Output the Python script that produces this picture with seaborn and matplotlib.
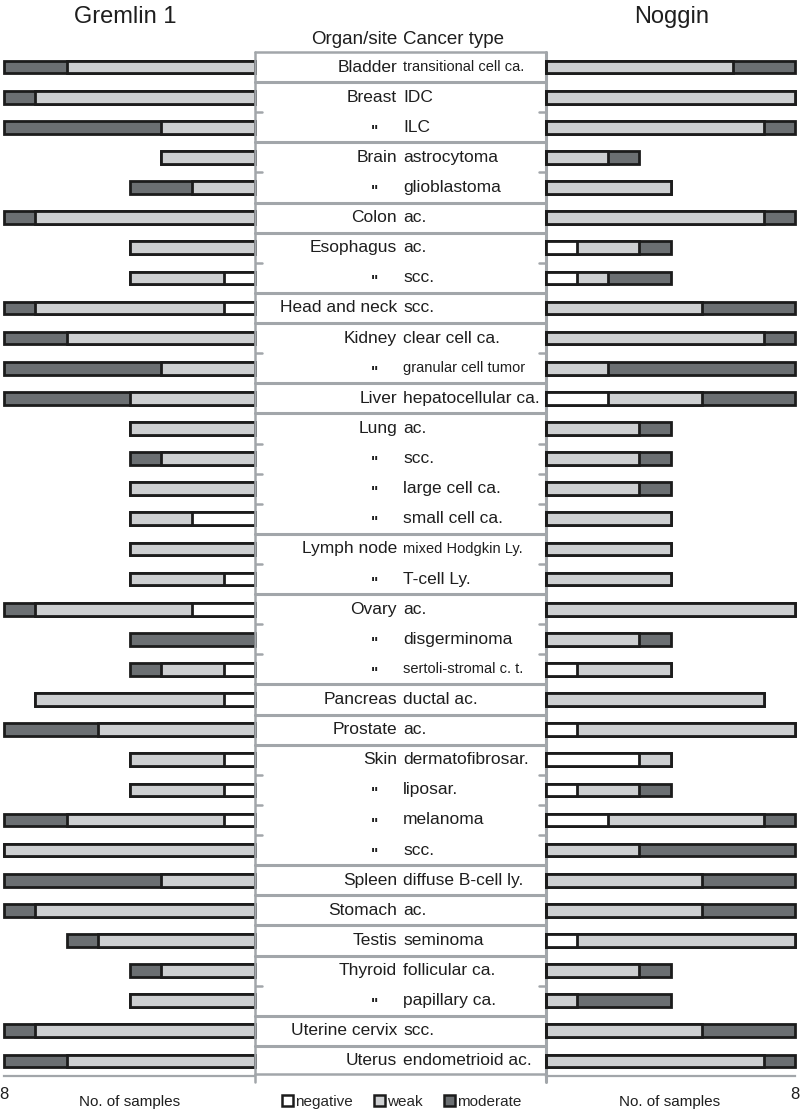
import matplotlib
matplotlib.use("Agg")
import matplotlib.pyplot as plt
from matplotlib.patches import Patch
import seaborn as sns
import pandas as pd

sns.set_style("white")
plt.rcParams['font.family'] = ['Liberation Sans', 'DejaVu Sans']

DITTO = '"'

organs = ["Bladder", "Breast", DITTO, "Brain", DITTO, "Colon", "Esophagus", DITTO,
          "Head and neck", "Kidney", DITTO, "Liver", "Lung", DITTO, DITTO, DITTO,
          "Lymph node", DITTO, "Ovary", DITTO, DITTO, "Pancreas", "Prostate",
          "Skin", DITTO, DITTO, DITTO, "Spleen", "Stomach", "Testis", "Thyroid",
          DITTO, "Uterine cervix", "Uterus"]
cancer_types = ["transitional cell ca.", "IDC", "ILC", "astrocytoma", "glioblastoma",
                "ac.", "ac.", "scc.", "scc.", "clear cell ca.", "granular cell tumor",
                "hepatocellular ca.", "ac.", "scc.", "large cell ca.", "small cell ca.",
                "mixed Hodgkin Ly.", "T-cell Ly.", "ac.", "disgerminoma",
                "sertoli-stromal c. t.", "ductal ac.", "ac.", "dermatofibrosar.",
                "liposar.", "melanoma", "scc.", "diffuse B-cell ly.", "ac.", "seminoma",
                "follicular ca.", "papillary ca.", "scc.", "endometrioid ac."]

# Gremlin 1 counts
grem_neg = [0, 0, 0, 0, 0, 0, 0, 1, 1, 0, 0, 0, 0, 0, 0, 2, 0, 1, 2, 0, 1, 1, 0,
            1, 1, 1, 0, 0, 0, 0, 0, 0, 0, 0]
grem_weak = [6, 7, 3, 3, 2, 7, 4, 3, 6, 6, 3, 4, 4, 3, 4, 2, 4, 3, 5, 0, 2, 6, 5,
             3, 3, 5, 8, 3, 7, 5, 3, 4, 7, 6]
grem_mod = [2, 1, 5, 0, 2, 1, 0, 0, 1, 2, 5, 4, 0, 1, 0, 0, 0, 0, 1, 4, 1, 0, 3,
            0, 0, 2, 0, 5, 1, 1, 1, 0, 1, 2]

# Noggin counts
nog_neg = [0, 0, 0, 0, 0, 0, 1, 1, 0, 0, 0, 2, 0, 0, 0, 0, 0, 0, 0, 0, 1, 0, 1,
           3, 1, 2, 0, 0, 0, 1, 0, 0, 0, 0]
nog_weak = [6, 8, 7, 2, 4, 7, 2, 1, 5, 7, 2, 3, 3, 3, 3, 4, 4, 4, 8, 3, 3, 7, 7,
            1, 2, 5, 3, 5, 5, 7, 3, 1, 5, 7]
nog_mod = [2, 0, 1, 1, 0, 1, 1, 2, 3, 1, 6, 3, 1, 1, 1, 0, 0, 0, 0, 1, 0, 0, 0,
           0, 1, 1, 5, 3, 3, 0, 1, 3, 3, 1]

x_ticks = [0, 2, 4, 6, 8]
x_tick_labels = ["", "", "", "", "8"]
levels = ["negative", "weak", "moderate"]

COLORS = {"negative": "#ffffff", "weak": "#cdcfd1", "moderate": "#6b6f72"}
EDGE = "#1c1c1c"
GRID = "#a2a6aa"
TEXT = "#1e1e1e"
SMALL_TYPES = {"transitional cell ca.", "granular cell tumor", "mixed Hodgkin Ly.",
               "sertoli-stromal c. t."}

W, H = 800, 1114
n = len(organs)
Y_TOP, Y_BOT = 52, 1076


def fx(px):
    return px / W


def fy(py):
    return 1 - py / H


def plot_panel(ax, neg, weak, mod, mirrored):
    df = pd.DataFrame({"row": list(range(n)), "neg": neg, "weak": weak, "mod": mod})
    df["c_weak"] = df["neg"] + df["weak"]
    df["c_mod"] = df["c_weak"] + df["mod"]
    # draw cumulative totals from longest to shortest so each segment shows
    for col, lvl in [("c_mod", "moderate"), ("c_weak", "weak"), ("neg", "negative")]:
        sns.barplot(data=df, x=col, y="row", orient="h", ax=ax, color=COLORS[lvl],
                    edgecolor=EDGE, linewidth=2.0, width=0.42, errorbar=None,
                    saturation=1)
    for p in ax.patches:
        p.set_clip_on(False)
    ax.set_ylim(n - 0.5, -0.5)
    if mirrored:
        ax.set_xlim(8, 0)
    else:
        ax.set_xlim(0, 8)
    ax.set_yticks([])
    ax.set_ylabel("")
    ax.set_xticks(x_ticks)
    ax.set_xticklabels(x_tick_labels, fontsize=12, color=TEXT)
    ax.set_xlabel("")
    for s in ["top", "left", "right"]:
        ax.spines[s].set_visible(False)
    ax.spines["bottom"].set_color(GRID)
    ax.spines["bottom"].set_linewidth(1.6)
    ax.tick_params(axis="x", direction="out", length=6, width=1.4, color=GRID, pad=2)
    ax.set_facecolor("none")


def plot_table(ax):
    ax.set_xlim(0, 1)
    ax.set_ylim(n - 0.5, -0.5)
    ax.axis("off")
    lw = 1.8
    ax.plot([0, 0], [-0.5, n - 0.3], color=GRID, lw=lw, clip_on=False, zorder=5)
    ax.plot([1, 1], [-0.5, n - 0.3], color=GRID, lw=2.2, clip_on=False, zorder=5)
    ax.plot([0, 1], [-0.5, -0.5], color=GRID, lw=lw, clip_on=False)
    ax.plot([0, 1], [n - 0.55, n - 0.55], color=GRID, lw=lw, clip_on=False)
    for i in range(1, n):
        yb = i - 0.5
        if organs[i] != DITTO:
            ax.plot([0, 1], [yb, yb], color=GRID, lw=2.2, clip_on=False)
        else:
            ax.plot([0, 0.024], [yb, yb], color=GRID, lw=lw)
            ax.plot([0.976, 1], [yb, yb], color=GRID, lw=lw)
    ox = (397 - 255) / 291
    cx = (403 - 255) / 291
    dx = (374 - 255) / 291
    for i in range(n):
        if organs[i] == DITTO:
            ax.text(dx, i + 0.12, '"', ha="center", va="center", fontsize=11,
                    fontweight="bold", color=TEXT)
        else:
            ax.text(ox, i, organs[i], ha="right", va="center", fontsize=12.5, color=TEXT)
        fs = 10.5 if cancer_types[i] in SMALL_TYPES else 12.5
        ax.text(cx, i, cancer_types[i], ha="left", va="center", fontsize=fs, color=TEXT)


def plot():
    fig = plt.figure(figsize=(W / 100, H / 100), dpi=100)
    bottom = fy(Y_BOT)
    height = (Y_BOT - Y_TOP) / H

    ax_left = fig.add_axes([fx(4), bottom, fx(251), height])
    ax_mid = fig.add_axes([fx(255), bottom, fx(291), height])
    ax_right = fig.add_axes([fx(546), bottom, fx(249), height])

    plot_panel(ax_left, grem_neg, grem_weak, grem_mod, mirrored=True)
    plot_panel(ax_right, nog_neg, nog_weak, nog_mod, mirrored=False)
    plot_table(ax_mid)

    fig.text(fx(125), fy(23), "Gremlin 1", ha="center", va="baseline", fontsize=17, color=TEXT)
    fig.text(fx(672), fy(23), "Noggin", ha="center", va="baseline", fontsize=17, color=TEXT)
    fig.text(fx(397), fy(44), "Organ/site", ha="right", va="baseline", fontsize=13.5, color=TEXT)
    fig.text(fx(403), fy(44), "Cancer type", ha="left", va="baseline", fontsize=13.5, color=TEXT)
    fig.text(fx(130), fy(1102), "No. of samples", ha="center", va="center", fontsize=11, color=TEXT)
    fig.text(fx(670), fy(1102), "No. of samples", ha="center", va="center", fontsize=11, color=TEXT)

    handles = [Patch(facecolor=COLORS[l], edgecolor=EDGE, linewidth=1.8) for l in levels]
    fig.legend(handles, levels, loc="center", bbox_to_anchor=(fx(402), fy(1102)),
               ncol=3, frameon=False, fontsize=11, handlelength=0.7, handleheight=0.7,
               handletextpad=0.15, columnspacing=1.4)

    fig.savefig("out.png", dpi=100)


if __name__ == "__main__":
    plot()
